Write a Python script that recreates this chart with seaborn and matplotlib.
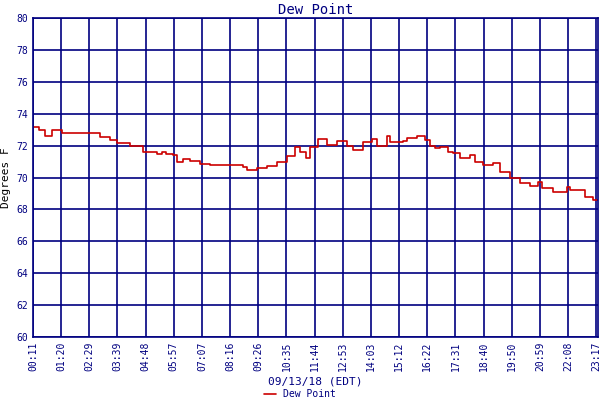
import matplotlib
matplotlib.use("Agg")
import matplotlib.pyplot as plt
import seaborn as sns
import pandas as pd

# minutes after midnight, dew point (F)
minutes = [11, 26, 40, 48, 58, 60, 83, 147, 177, 201, 219, 251, 283, 318, 330, 340,
           357, 367, 382, 399, 424, 449, 506, 530, 540, 555, 565, 590, 614, 639, 659,
           671, 680, 686, 696, 716, 738, 763, 788, 802, 827, 849, 862, 886, 894, 926,
           936, 961, 980, 993, 1005, 1017, 1037, 1050, 1067, 1092, 1104, 1124, 1149,
           1166, 1191, 1215, 1240, 1260, 1270, 1297, 1332, 1339, 1376, 1396, 1408]
dew_point = [73.15, 72.98, 72.6, 72.6, 72.98, 72.98, 72.8, 72.8, 72.56, 72.35, 72.16,
             71.97, 71.6, 71.47, 71.6, 71.5, 71.4, 70.95, 71.18, 71.05, 70.85, 70.78,
             70.78, 70.68, 70.47, 70.47, 70.58, 70.72, 71.0, 71.35, 71.93, 71.58, 71.58,
             71.2, 71.9, 72.4, 72.04, 72.3, 71.97, 71.73, 72.25, 72.4, 71.97, 72.6, 72.2,
             72.3, 72.46, 72.6, 72.35, 71.97, 71.83, 71.9, 71.6, 71.55, 71.2, 71.4, 71.0,
             70.78, 70.9, 70.37, 69.95, 69.67, 69.47, 69.73, 69.32, 69.1, 69.39, 69.2,
             68.76, 68.6, 68.6]
tick_labels = ["00:11", "01:20", "02:29", "03:39", "04:48", "05:57", "07:07", "08:16",
               "09:26", "10:35", "11:44", "12:53", "14:03", "15:12", "16:22", "17:31",
               "18:40", "19:50", "20:59", "22:08", "23:17"]

navy = "#000080"
df = pd.DataFrame({"t": minutes, "Dew Point": dew_point})

sns.set_style("white")
plt.rcParams['font.family'] = ['DejaVu Sans Mono']

fig = plt.figure(figsize=(6, 4), dpi=100)
ax = fig.add_axes([0.055, 0.1575, 0.942, 0.7975])
sns.lineplot(data=df, x="t", y="Dew Point", ax=ax, color="#cc0000",
             linewidth=1.2, drawstyle="steps-post", label="Dew Point", legend=False)

ax.set_xlim(11, 1408)
ax.set_ylim(60, 80)
ax.set_yticks(range(60, 81, 2))
ax.set_xticks([11 + 69.6 * i for i in range(len(tick_labels))])
ax.set_xticklabels(tick_labels, rotation=90, fontsize=7, color=navy)
ax.tick_params(axis="y", labelsize=7, colors=navy, length=0)
ax.tick_params(axis="x", length=0, colors=navy)
ax.grid(True, color=navy, linewidth=1.2)
for s in ax.spines.values():
    s.set_color(navy)
    s.set_linewidth(1.2)
ax.set_title("Dew Point", color=navy, fontsize=10, pad=3)
ax.set_xlabel("09/13/18 (EDT)", color=navy, fontsize=8)
ax.set_ylabel("Degrees F", color="black", fontsize=8)

fig.legend(loc="lower center", bbox_to_anchor=(0.5, -0.02), frameon=False,
           fontsize=7, handlelength=1.2, labelcolor=navy)
fig.savefig("out.png", dpi=100)
